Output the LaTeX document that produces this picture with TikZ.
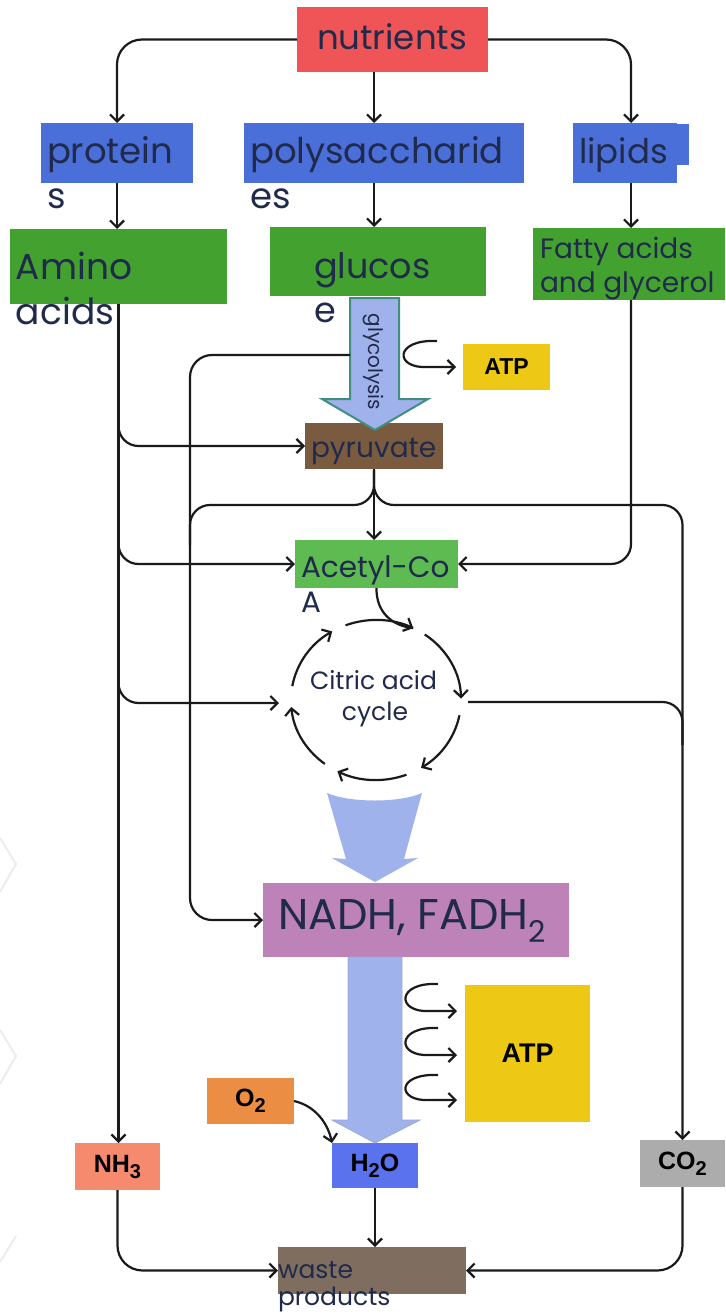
\documentclass[tikz,border=0pt]{standalone}
\usepackage{fontspec}
\setmainfont{Poppins}
\newfontfamily\labelfont{Liberation Sans}
\usetikzlibrary{arrows.meta,calc}

\definecolor{ink}{HTML}{202A4B}
\definecolor{linecol}{HTML}{1A1A1A}
\definecolor{nutred}{HTML}{EF5457}
\definecolor{macroblue}{HTML}{4A6FD9}
\definecolor{monogreen}{HTML}{43A22F}
\definecolor{pyrbrown}{HTML}{7B5B3F}
\definecolor{acegreen}{HTML}{5DBB52}
\definecolor{atpyellow}{HTML}{EDC915}
\definecolor{nadhpurple}{HTML}{BD82B8}
\definecolor{oxorange}{HTML}{EB8E43}
\definecolor{waterblue}{HTML}{5B72EE}
\definecolor{ammsalmon}{HTML}{F58A6E}
\definecolor{co2grey}{HTML}{ACACAC}
\definecolor{wastebrown}{HTML}{7F6E5F}
\definecolor{flowblue}{HTML}{A0B2EC}
\definecolor{flowteal}{HTML}{3F8E80}

\newcommand{\fsz}[1]{\fontsize{#1}{#1}\selectfont}

\begin{document}
\begin{tikzpicture}[x=1pt,y=-1pt,
  box/.style={draw=none,inner sep=0pt,outer sep=0pt},
  txt/.style={inner sep=0pt,outer sep=0pt,text=ink,anchor=base west},
  chem/.style={inner sep=0pt,outer sep=0pt,text=black,font=\labelfont\bfseries\fsz{25}},
  conn/.style={draw=linecol,line width=2.2pt},
  arr/.style={conn,-{Straight Barb[length=7pt,width=14pt]}},
  roundarr/.style={arr,rounded corners=20pt},
  roundconn/.style={conn,rounded corners=20pt},
  flow/.style={fill=flowblue,draw=none}]

\useasboundingbox (0,0) rectangle (725,1316);

% faint background chevrons at the left edge
\draw[gray!15,line width=2pt] (0,838) -- (16,864) -- (0,892);
\draw[gray!15,line width=2pt] (0,1030) -- (16,1056) -- (0,1084);
\draw[gray!15,line width=2pt] (0,1262) -- (16,1236);

% ---------- boxes ----------
\node[box,fill=nutred,minimum width=191,minimum height=65] (nutrients) at (392.5,39.5) {};
\node[box,fill=macroblue,minimum width=152,minimum height=60] (protein) at (117,153) {};
\node[box,fill=macroblue,minimum width=280,minimum height=60] (polysacc) at (384,153) {};
\node[box,fill=macroblue,minimum width=104,minimum height=60] (lipids) at (625,153) {};
\node[box,fill=macroblue,minimum width=12,minimum height=41] (lipidstab) at (683,144.5) {};
\node[box,fill=monogreen,minimum width=217,minimum height=75] (amino) at (118.5,266.5) {};
\node[box,fill=monogreen,minimum width=216,minimum height=69] (glucose) at (378,261.5) {};
\node[box,fill=monogreen,minimum width=192,minimum height=72] (fatty) at (629,264) {};
\node[box,fill=pyrbrown,minimum width=138,minimum height=46] (pyruvate) at (374,446) {};
\node[box,fill=acegreen,minimum width=163,minimum height=48] (acetyl) at (376.5,564) {};
\node[box,fill=atpyellow,minimum width=87,minimum height=46] (atpA) at (506.5,367) {};
\node[box,fill=nadhpurple,minimum width=306,minimum height=74] (nadh) at (416,920) {};
\node[box,fill=atpyellow,minimum width=125,minimum height=137] (atpB) at (527.5,1053.5) {};
\node[box,fill=oxorange,minimum width=87,minimum height=46] (oxygen) at (250.5,1101) {};
\node[box,fill=waterblue,minimum width=86,minimum height=45] (water) at (375,1165.5) {};
\node[box,fill=ammsalmon,minimum width=85,minimum height=47] (ammonia) at (117.5,1166.5) {};
\node[box,fill=co2grey,minimum width=85,minimum height=47] (carbon) at (682.5,1163.5) {};
\node[box,fill=wastebrown,minimum width=188,minimum height=47] (waste) at (372,1270.5) {};

% ---------- labels ----------
\node[txt,font=\fsz{34}] (nutrientsT) at (317,50) {nutrients};
\node[txt,font=\fsz{35.5}] (proteinT) at (47,164) {protein};
\node[txt,font=\fsz{35.5}] (proteinU) at (47,208) {s};
\node[txt,font=\fsz{35.5}] (polysaccT) at (250,164) {polysaccharid};
\node[txt,font=\fsz{35.5}] (polysaccU) at (250,208) {es};
\node[txt,font=\fsz{34}] (lipidsT) at (579,164) {lipids};
\node[txt,font=\fsz{36}] (aminoT) at (16,279) {Amino};
\node[txt,font=\fsz{36}] (aminoU) at (16,324) {acids};
\node[txt,font=\fsz{35}] (glucoseT) at (314,278) {glucos};
\node[txt,font=\fsz{35}] (glucoseU) at (314,322) {e};
\node[txt,font=\fsz{28}] (fattyT) at (540,258) {Fatty acids};
\node[txt,font=\fsz{28}] (fattyU) at (540,292) {and glycerol};
\node[txt,font=\fsz{28}] (pyruvateT) at (311,457) {pyruvate};
\node[txt,font=\fsz{29.5}] (acetylT) at (301,577) {Acetyl-Co};
\node[txt,font=\fsz{29.5}] (acetylU) at (301,612) {A};
\node[txt,font=\fsz{25}] (cycleT) at (310,689) {Citric acid};
\node[txt,font=\fsz{25},anchor=base] (cycleU) at (375,720) {cycle};
\node[txt,font=\fsz{43}] (nadhT) at (278,929) {NADH, FADH\raisebox{-13pt}{\fsz{30}2}};
\node[txt,font=\fsz{25}] (wasteT) at (278,1278) {waste};
\node[txt,font=\fsz{25}] (wasteU) at (278,1305) {products};
\node[chem,font=\labelfont\bfseries\fsz{23}] at (atpA) {ATP};
\node[chem,font=\labelfont\bfseries\fsz{27}] at (atpB) {ATP};
\node[chem] at (oxygen) {O\raisebox{-6pt}{\fsz{20}2}};
\node[chem] at (water) {H\raisebox{-6pt}{\fsz{20}2}O};
\node[chem] at (ammonia) {NH\raisebox{-6pt}{\fsz{20}3}};
\node[chem] at (carbon) {CO\raisebox{-6pt}{\fsz{20}2}};

% ---------- glycolysis block arrow ----------
\draw[fill=flowblue,draw=flowteal,line width=2pt,line join=miter]
  (350,298) -- (399,298) -- (399,399) -- (428,399) -- (375,430)
  -- (322,399) -- (350,399) -- cycle;
\node[txt,font=\fsz{20},rotate=-90,anchor=center] (glycT) at (373,362) {glycolysis};
\coordinate (glyL) at (350,355);
\coordinate (glyR) at (437,341);

% ---------- cycle-to-NADH and NADH-to-water flow arrows ----------
\fill[flow] (327,793) .. controls (350,803) and (400,803) .. (422,793)
  -- (404,859) -- (418,858) -- (375,882) -- (332,858) -- (346,859) -- cycle;
\draw[fill=flowblue,draw=flowblue!80!gray,line width=0.8pt]
  (348,957) -- (402,957) -- (402,1120) -- (420,1120) -- (375,1143)
  -- (332,1120) -- (348,1120) -- cycle;

% ---------- nutrients fan-out ----------
\draw[roundarr,rounded corners=25pt] (nutrients.west) -| (protein.north);
\draw[roundarr,rounded corners=25pt] (nutrients.east) -| ([xshift=6pt]lipids.north);
\draw[arr] ([xshift=-18.5pt]nutrients.south) -- ([xshift=-10pt]polysacc.north);
\draw[arr] (protein.south) -- (protein.south |- amino.north);
\draw[arr] ([xshift=-10pt]polysacc.south) -- ([xshift=-10pt]polysacc.south |- glucose.north);
\draw[arr] ([xshift=6pt]lipids.south) -- ([xshift=6pt]lipids.south |- fatty.north);

% ---------- amino acid trunk and its branches ----------
\coordinate (cycW) at (279,703);
\draw[arr] (amino.south) -- (amino.south |- ammonia.north);
\draw[roundarr] (118.5,420) |- (pyruvate.west);
\draw[roundarr] (118.5,540) |- (acetyl.west);
\draw[roundarr] (118.5,680) |- (cycW);

% ---------- glycolysis side line to NADH ----------
\draw[roundarr,rounded corners=22pt] (glyL) -- (190,355) -- (190,920) -- (nadh.west);

% ---------- ATP from glycolysis ----------
\draw[arr] (glyR) .. controls (394,339) and (394,369) .. (428,367) -- ([xshift=-7pt]atpA.west);

% ---------- pyruvate fork ----------
\draw[arr] (pyruvate.south) -- (pyruvate.south |- acetyl.north);
\draw[roundconn] (374,470) |- (190,505) -- (190,545);
\draw[roundarr] (374,470) |- (682.5,505) -- (carbon.north);

% ---------- fatty acids to acetyl-CoA ----------
\draw[roundarr] ([xshift=2pt]fatty.south) |- (acetyl.east);

% ---------- citric acid cycle ----------
\coordinate (cyc) at (376,700);
\foreach \s/\e in {-111/-64,-55/-1,11/58,69/117,127/175,-170/-121}
  \draw[arr] ([shift={(\s:85 and 80)}]cyc) arc[start angle=\s,end angle=\e,x radius=85,y radius=80];
\draw[conn] (acetyl.south) .. controls (376,612) and (392,626) .. ([shift={(-64:85 and 80)}]cyc);
\coordinate (cycE) at (468,702);
\draw[roundconn] (cycE) -- (682.5,702) -- (682.5,745);

% ---------- oxidative phosphorylation ATP ----------
\coordinate (etA) at (438,984);
\coordinate (etB) at (438,1028);
\coordinate (etC) at (438,1075);
\draw[arr] (etA) .. controls (396,982) and (396,1013) .. (430,1011) -- (457,1011);
\draw[arr] (etB) .. controls (396,1026) and (396,1057) .. (430,1055) -- (457,1055);
\draw[arr] (etC) .. controls (396,1073) and (396,1102) .. (430,1100) -- (457,1100);

% ---------- oxygen to water ----------
\draw[arr] (oxygen.east) .. controls (316,1106) and (328,1124) .. (water.north west);

% ---------- waste products ----------
\draw[arr] (water.south) -- (water.south |- waste.north);
\draw[roundarr,rounded corners=25pt] (ammonia.south) |- (waste.west);
\draw[roundarr,rounded corners=25pt] (carbon.south) |- (waste.east);

\end{tikzpicture}
\end{document}
